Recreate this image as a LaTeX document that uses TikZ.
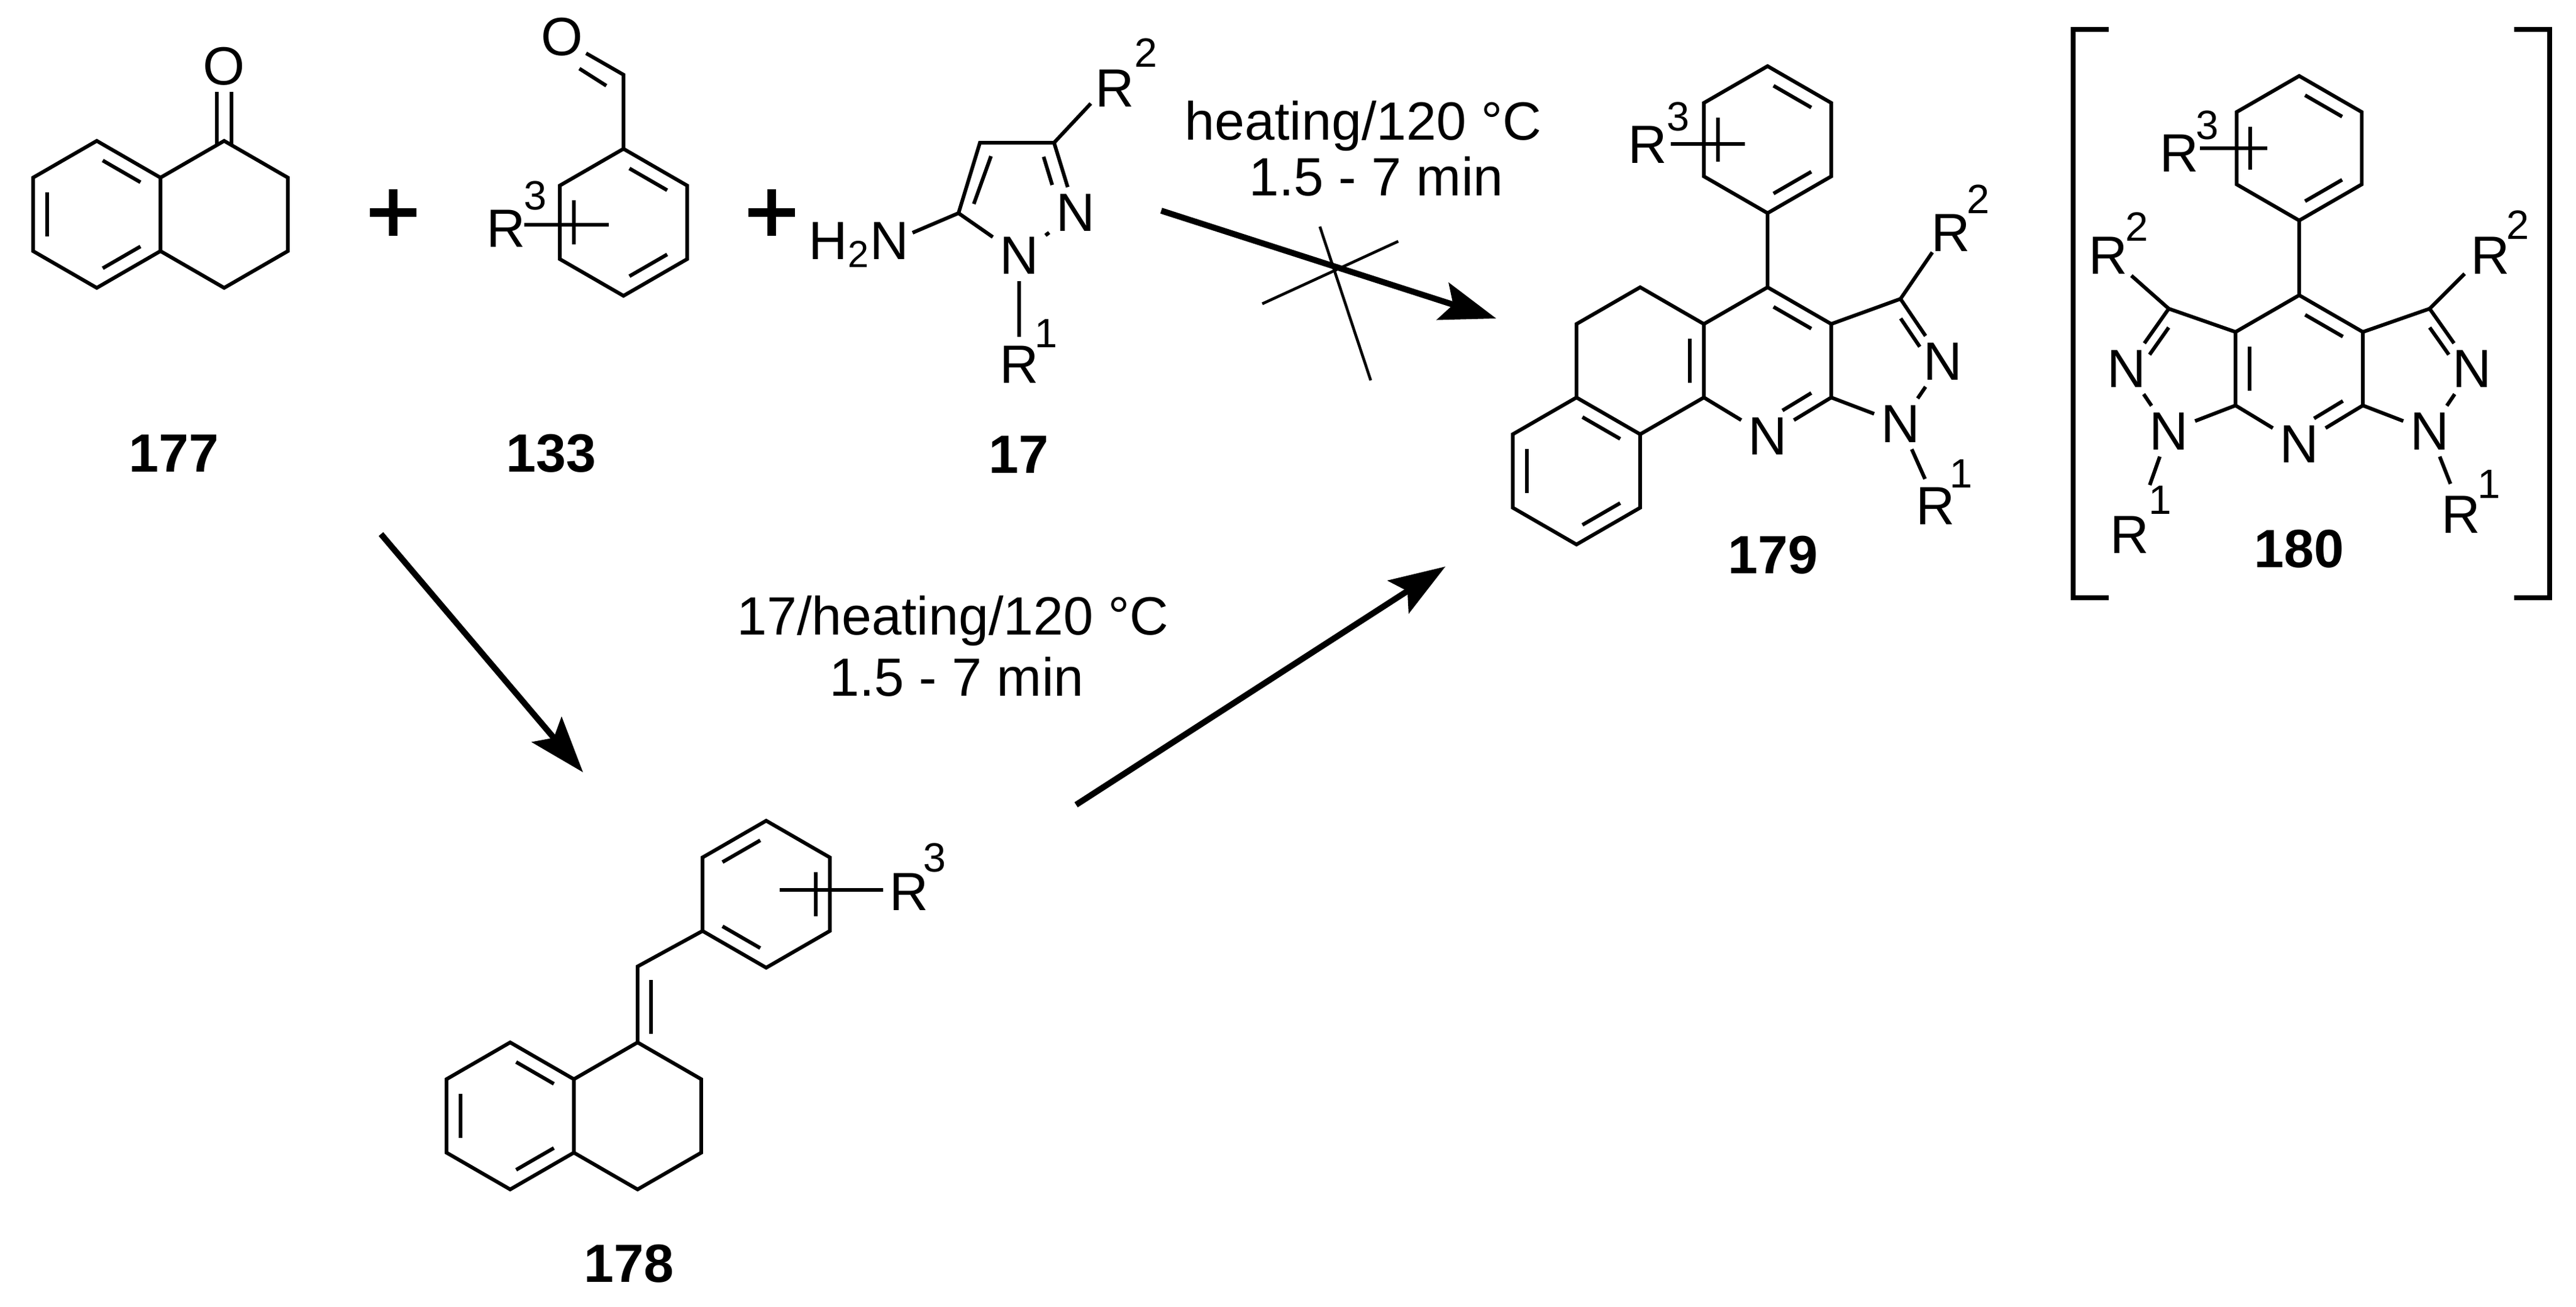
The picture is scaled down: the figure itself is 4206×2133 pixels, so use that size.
\documentclass[tikz,border=0pt]{standalone}
\usepackage{fontspec}
\setmainfont{Liberation Sans}
\usetikzlibrary{calc,arrows.meta}
\newcommand{\hexc}[4]{\coordinate (#1c) at (#2,#3);
 \foreach \i/\ang in {1/90,2/30,3/-30,4/-90,5/-150,6/150}{\coordinate (#1\i) at ($(#2,#3)+(\ang:#4)$);}}
\newcommand{\hexring}[1]{\draw[bond] (#11)--(#12)--(#13)--(#14)--(#15)--(#16)--cycle;}
\newcommand{\inb}[4][.12]{\coordinate (ia) at ($(#2c)!.78!(#3)$); \coordinate (ib) at ($(#2c)!.78!(#4)$); \draw[bond] ($(ia)!.12!(ib)$) -- ($(ib)!#1!(ia)$);}
\begin{document}
\begin{tikzpicture}[x=0.01cm,y=-0.01cm,
 bond/.style={line width=1.7pt,line join=miter},
 lab/.style={font=\fontsize{25}{30}\selectfont,inner sep=0pt},
 atom/.style={font=\fontsize{25}{30}\selectfont,inner sep=3pt},
 sup/.style={font=\fontsize{19}{22}\selectfont,inner sep=0pt},
 num/.style={font=\fontsize{25}{30}\selectfont\bfseries,inner sep=0pt},
 rxn/.style={line width=2.8pt,-{Stealth[length=26pt,width=18pt,inset=5pt]}},
 plus/.style={line width=4pt}]
\useasboundingbox (0,0) rectangle (4206,2133);
% ---- 177
\hexc{a}{158}{350}{120}\hexc{b}{366}{350}{120}
\hexring{a}\hexring{b}
\inb{a}{a4}{a3}\inb{a}{a5}{a6}\inb{a}{a2}{a1}
\draw[bond] (354,236)--(354,150) (378,236)--(378,150);
\node[atom] (o1) at (366,108) {O};
\node[num] (n177) at (284,740) {177};
% plus
\draw[plus] (604,347)--(680,347) (642,309)--(642,385);
\draw[plus] (1222,347)--(1298,347) (1260,309)--(1260,385);
% ---- 133
\hexc{c}{1018}{363}{120}\hexring{c}
\inb{c}{c4}{c3}\inb{c}{c5}{c6}\inb{c}{c2}{c1}
\coordinate (cho) at (1018,122);
\draw[bond] (c4)--(cho)--(957,87);
\draw[bond] (990,140)--(946,112);
\node[atom] (o2) at (918,60) {O};
\draw[bond] (856,367)--(994,367);
\node[lab] (r3a) at (826,373) {R};
\node[sup] (s3a) at (874,319) {3};
\node[num] (n133) at (900,740) {133};
% ---- 17
\coordinate (k5) at (1565,348); \coordinate (k4) at (1600,233); \coordinate (k3) at (1721,233);
\node[atom] (kn2) at (1756,347) {N};
\node[atom] (kn1) at (1664,417) {N};
\draw[bond] (k5)--(k4)--(k3); \draw[bond] (k3)--(kn2); \draw[bond] (kn2)--(kn1); \draw[bond] (kn1)--(k5);
\draw[bond] (1618,255)--(1590,333);
\draw[bond] (1704,256)--(1718,302);
\node[lab] (h2n) at (1402,400) {H\textsubscript{2}N};
\draw[bond] (k5)--(1490,380);
\draw[bond] (k3)--(1781,169);
\node[lab] (r2a) at (1820,144) {R}; \node[sup] (s2a) at (1871,86) {2};
\draw[bond] (kn1)--(1664,550);
\node[lab] (r1a) at (1664,595) {R}; \node[sup] (s1a) at (1708,545) {1};
\node[num] (n17) at (1663,742) {17};
% ---- top arrow
\coordinate (ta1) at (1896,344); \coordinate (ta2) at (2443,520);
\draw[rxn] (ta1)--(ta2);
\draw[line width=1.3pt] (2155,370)--(2238,621) (2061,496)--(2283,394);
\node[lab,anchor=base] (t1) at (2226,228) {heating/120 °C};
\node[lab,anchor=base] (t2) at (2247,319) {1.5 - 7 min};
% ---- bottom arrows
\coordinate (ba1) at (622,872); \coordinate (ba2) at (952,1261);
\draw[rxn] (ba1)--(ba2);
\coordinate (bb1) at (1757,1314); \coordinate (bb2) at (2360,925);
\draw[rxn] (bb1)--(bb2);
\node[lab] (t3) at (1556,1014) {17/heating/120 °C};
\node[lab] (t4) at (1562,1105) {1.5 - 7 min};
% ---- 178
\hexc{d}{833}{1822}{120}\hexc{e}{1041}{1822}{120}\hexc{f}{1251}{1460}{120}
\hexring{d}\hexring{e}\hexring{f}
\inb{d}{d4}{d3}\inb{d}{d5}{d6}\inb{d}{d2}{d1}
\inb{f}{f5}{f4}\inb{f}{f3}{f2}\inb{f}{f6}{f1}
\coordinate (ex) at (1041,1578);
\draw[bond] (e4)--(ex)--(f6);
\draw[bond] (1063,1600)--(1063,1688);
\draw[bond] (1273,1453)--(1442,1453);
\node[lab] (r3b) at (1484,1456) {R}; \node[sup] (s3b) at (1526,1400) {3};
\node[num] (n178) at (1027,2063) {178};
% ---- 179
\hexc{p}{2886}{228}{120}\hexring{p}
\inb{p}{p4}{p3}\inb{p}{p5}{p6}\inb{p}{p2}{p1}
\draw[bond] (2728,235)--(2849,235);
\node[lab] (r3c) at (2690,236) {R}; \node[sup] (s3c) at (2740,190) {3};
\hexc{q}{2886}{589}{120}
\hexc{m}{2678}{589}{120}
\hexc{z}{2574}{769}{120}
\node[atom] (qn) at (2886,712) {N};
\draw[bond] (p1)--(q4);
\draw[bond] (q2)--(q3)--(q4)--(q5)--(q6);
\draw[bond] (q2)--(qn); \draw[bond] (qn)--(q6);
\draw[bond] (m3)--(m4)--(m5)--(m6);
\draw[bond] (m1)--(m2);
\hexring{z}
\inb{q}{q4}{q3}\inb[.3]{q}{q2}{qn}\inb{m}{m3}{m2}
\inb{z}{z4}{z3}\inb{z}{z5}{z6}\inb{z}{z2}{z1}
\coordinate (g3) at (3103,488);
\node[atom] (gn2) at (3172,590) {N};
\node[atom] (gn1) at (3103,692) {N};
\coordinate (gzc) at (3075,590);
\draw[bond] (q3)--(g3); \draw[bond] (g3)--(gn2); \draw[bond] (gn2)--(gn1); \draw[bond] (gn1)--(q2);
\inb[.3]{gz}{g3}{gn2}
\draw[bond] (g3)--(3155,412);
\node[lab] (r2c) at (3185,380) {R}; \node[sup] (s2c) at (3230,325) {2};
\draw[bond] (gn1)--(3143,782);
\node[lab] (r1c) at (3160,826) {R}; \node[sup] (s1c) at (3202,774) {1};
\node[num] (n179) at (2895,906) {179};
% ---- 180
\hexc{s}{3754}{242}{118}\hexring{s}
\inb{s}{s4}{s3}\inb{s}{s5}{s6}\inb{s}{s2}{s1}
\draw[bond] (3592,242)--(3702,242);
\node[lab] (r3d) at (3558,250) {R}; \node[sup] (s3d) at (3604,204) {3};
\hexc{t}{3754}{602}{120}
\node[atom] (tn) at (3754,725) {N};
\draw[bond] (s1)--(t4);
\draw[bond] (t2)--(t3)--(t4)--(t5)--(t6);
\draw[bond] (t2)--(tn); \draw[bond] (tn)--(t6);
\inb{t}{t4}{t3}\inb{t}{t5}{t6}\inb[.3]{t}{t2}{tn}
% right pyrazole
\coordinate (u3) at (3967,504);
\node[atom] (un2) at (4036,602) {N};
\node[atom] (un1) at (3967,704) {N};
\coordinate (uzc) at (3938,602);
\draw[bond] (t3)--(u3); \draw[bond] (u3)--(un2); \draw[bond] (un2)--(un1); \draw[bond] (un1)--(t2);
\inb[.3]{uz}{u3}{un2}
\draw[bond] (u3)--(4024,447);
\node[lab] (r2d) at (4066,417) {R}; \node[sup] (s2d) at (4111,367) {2};
\draw[bond] (un1)--(4001,790);
\node[lab] (r1d) at (4018,840) {R}; \node[sup] (s1d) at (4064,791) {1};
% left pyrazole
\coordinate (v3) at (3541,504);
\node[atom] (vn2) at (3472,602) {N};
\node[atom] (vn1) at (3541,704) {N};
\coordinate (vzc) at (3570,602);
\draw[bond] (t5)--(v3); \draw[bond] (v3)--(vn2); \draw[bond] (vn2)--(vn1); \draw[bond] (vn1)--(t6);
\inb[.3]{vz}{v3}{vn2}
\draw[bond] (v3)--(3480,450);
\node[lab] (r2e) at (3442,417) {R}; \node[sup] (s2e) at (3489,370) {2};
\draw[bond] (vn1)--(3510,792);
\node[lab] (r1e) at (3477,873) {R}; \node[sup] (s1e) at (3527,817) {1};
\node[num] (n180) at (3754,896) {180};
\draw[line width=2.2pt] (3443,48)--(3385,48)--(3385,976)--(3443,976);
\draw[line width=2.2pt] (4105,48)--(4163,48)--(4163,976)--(4105,976);
\end{tikzpicture}
\end{document}
